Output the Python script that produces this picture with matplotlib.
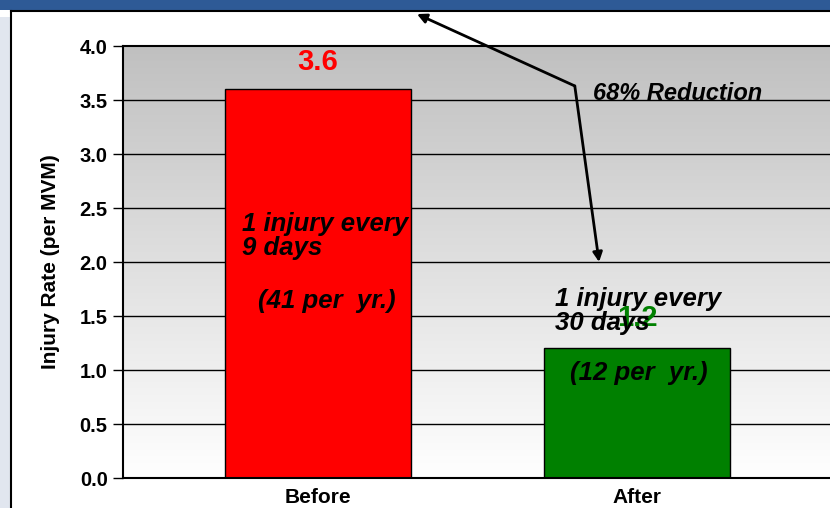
import numpy as np
import matplotlib
matplotlib.use("Agg")
import matplotlib.pyplot as plt
from matplotlib.colors import LinearSegmentedColormap
from matplotlib.patches import Rectangle
from matplotlib.lines import Line2D

plt.rcParams['font.family'] = ['Liberation Sans', 'DejaVu Sans']

categories = ["Before", "After"]
rates = [3.6, 1.2]
bar_colors = ["#FF0000", "#008000"]
rate_labels = ["3.6", "1.2"]
y_ticks = [0.0, 0.5, 1.0, 1.5, 2.0, 2.5, 3.0, 3.5, 4.0]
notes_before = ["1 injury every\n9 days", "(41 per  yr.)"]
notes_after = ["1 injury every\n30 days", "(12 per  yr.)"]
reduction_text = "68% Reduction"

fig = plt.figure(figsize=(8.3, 5.08), dpi=100)
fig.patch.set_facecolor("white")

# frame pieces of the slide
fig.patches.append(Rectangle((0, 1 - 10 / 508), 1, 10 / 508, transform=fig.transFigure,
                             facecolor="#2E5A96", edgecolor="none", zorder=0))
fig.patches.append(Rectangle((0, 0), 11 / 830, 1 - 17 / 508, transform=fig.transFigure,
                             facecolor="#E1E6EF", edgecolor="none", zorder=0))
fig.lines.append(Line2D([11 / 830, 1], [1 - 11 / 508, 1 - 11 / 508], transform=fig.transFigure,
                        color="black", lw=1.5))
fig.lines.append(Line2D([11 / 830, 11 / 830], [0, 1 - 11 / 508], transform=fig.transFigure,
                        color="black", lw=1.5))

ax = fig.add_axes([123 / 830, 30 / 508, 709 / 830, 432 / 508])

# gradient background
cmap = LinearSegmentedColormap.from_list("bg", ["#FFFFFF", "#C0C0C0"])
grad = np.linspace(0, 1, 256).reshape(-1, 1)
ax.imshow(grad, extent=[0, 1, 0, 1], transform=ax.transAxes, cmap=cmap,
          origin="lower", aspect="auto", zorder=0)

x = np.arange(len(categories))
for yt in y_ticks[1:-1]:
    ax.axhline(yt, color="black", lw=1, zorder=1)
ax.bar(x, rates, width=0.582, color=bar_colors, edgecolor="black", lw=1, zorder=2)

ax.set_xlim(-0.61, 1.609)
ax.set_ylim(0, 4.0)
ax.set_xticks(x)
ax.set_xticklabels(categories, fontsize=15, fontweight="bold")
ax.set_yticks(y_ticks)
ax.set_yticklabels([f"{v:.1f}" for v in y_ticks], fontsize=14.5, fontweight="bold")
ax.tick_params(axis="x", length=0, pad=7)
ax.tick_params(axis="y", length=7, width=1, pad=4)
ax.set_ylabel("Injury Rate (per MVM)", fontsize=15, fontweight="bold", labelpad=14)
ax.spines["right"].set_visible(False)
for s in ["top", "left", "bottom"]:
    ax.spines[s].set_linewidth(1.5)
    ax.spines[s].set_zorder(3)

# value labels
ax.text(x[0], 3.85, rate_labels[0], color=bar_colors[0], fontsize=21, fontweight="bold",
        ha="center", va="center", zorder=4)
ax.text(x[1], 1.48, rate_labels[1], color=bar_colors[1], fontsize=21, fontweight="bold",
        ha="center", va="center", zorder=4)

# multi-line baseline aligns on the last line
note_kw = dict(fontsize=18.5, fontweight="bold", style="italic", color="black",
               ha="left", va="baseline", linespacing=1.0, zorder=5)
ax.text(-0.238, 2.065, notes_before[0], **note_kw)
ax.text(-0.188, 1.574, notes_before[1], **note_kw)
ax.text(0.742, 1.37, notes_after[0], **note_kw)
ax.text(0.789, 0.907, notes_after[1], **note_kw)
ax.text(0.861, 3.5, reduction_text, fontsize=17, fontweight="bold", style="italic",
        ha="left", va="baseline", zorder=5)

# bent double arrow
mid = (0.804, 3.63)
arrow_kw = dict(arrowstyle="-|>", color="black", lw=2, mutation_scale=14, shrinkA=0, shrinkB=0)
ax.annotate("", xy=(0.31, 4.296), xytext=mid, arrowprops=arrow_kw, annotation_clip=False, zorder=6)
ax.annotate("", xy=(0.88, 2.0), xytext=mid, arrowprops=arrow_kw, annotation_clip=False, zorder=6)

fig.savefig("out.png", dpi=100)
